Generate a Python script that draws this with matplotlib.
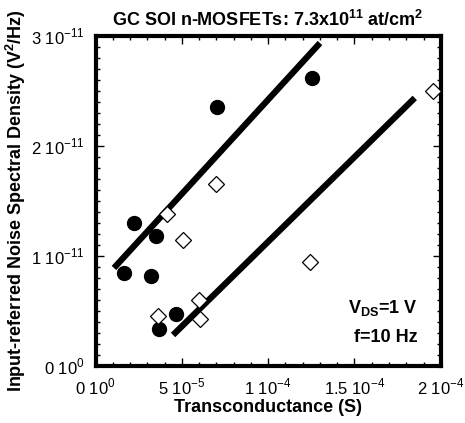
import numpy as np
import matplotlib
matplotlib.use('Agg')
import matplotlib.pyplot as plt
from matplotlib.ticker import FixedLocator, MultipleLocator

plt.rcParams['font.family'] = ['Liberation Sans', 'DejaVu Sans']
plt.rcParams['mathtext.fontset'] = 'custom'
plt.rcParams['mathtext.rm'] = 'Liberation Sans'
plt.rcParams['mathtext.bf'] = 'Liberation Sans:bold'

# filled circles
gm_circ = [16.5e-6, 22.3e-6, 35.0e-6, 32.1e-6, 36.8e-6, 46.6e-6, 70.3e-6, 125.3e-6]
svg_circ = [0.842e-11, 1.297e-11, 1.179e-11, 0.815e-11, 0.332e-11, 0.469e-11, 2.353e-11, 2.618e-11]

# open diamonds
gm_diam = [41.4e-6, 50.7e-6, 36.2e-6, 59.9e-6, 60.5e-6, 69.8e-6, 124.2e-6, 195.5e-6]
svg_diam = [1.379e-11, 1.143e-11, 0.451e-11, 0.596e-11, 0.423e-11, 1.653e-11, 0.942e-11, 2.50e-11]

# fit lines (end points)
fit1_x = [10.7e-6, 130.0e-6]
fit1_y = [0.888e-11, 2.936e-11]
fit2_x = [44.9e-6, 184.9e-6]
fit2_y = [0.278e-11, 2.436e-11]

xticks = [0, 5e-5, 1e-4, 1.5e-4, 2e-4]
xlabels = ['0 10$^{0}$', '5 10$^{-5}$', '1 10$^{-4}$', '1.5 10$^{-4}$', '2 10$^{-4}$']
yticks = [0, 1e-11, 2e-11, 3e-11]
ylabels = ['0 10$^{0}$', '1 10$^{-11}$', '2 10$^{-11}$', '3 10$^{-11}$']

fig = plt.figure(figsize=(4.65, 4.23), dpi=100)
ax = fig.add_axes([0.2054, 0.1359, 0.7426, 0.779])

ax.plot(fit1_x, fit1_y, color='black', lw=4.5, solid_capstyle='butt')
ax.plot(fit2_x, fit2_y, color='black', lw=4.5, solid_capstyle='butt')
ax.plot(gm_circ, svg_circ, 'o', color='black', ms=10, zorder=3)
ax.plot(gm_diam, svg_diam, 'D', mfc='white', mec='black', mew=0.9, ms=8, zorder=3, clip_on=False)

ax.set_xlim(0, 2e-4)
ax.set_ylim(0, 3e-11)
ax.xaxis.set_major_locator(FixedLocator(xticks))
ax.set_xticklabels(xlabels)
ax.yaxis.set_major_locator(FixedLocator(yticks))
ax.set_yticklabels(ylabels)
ax.xaxis.set_minor_locator(MultipleLocator(1e-5))
ax.yaxis.set_minor_locator(MultipleLocator(1e-12))
ax.tick_params(which='both', direction='in', top=True, right=True, width=1)
ax.tick_params(which='major', length=5.5, labelsize=12, pad=8)
ax.tick_params(which='minor', length=3)
for s in ax.spines.values():
    s.set_linewidth(3)

ax.set_xlabel('Transconductance (S)', fontsize=13, fontweight='bold', labelpad=1)
ax.set_ylabel('Input-referred Noise Spectral Density (V$^{\\mathbf{2}}$/Hz)',
              fontsize=13, fontweight='bold', labelpad=2)
ax.set_title('GC SOI n-MOSFETs: 7.3x10$^{\\mathbf{11}}$ at/cm$^{\\mathbf{2}}$',
             fontsize=13, fontweight='bold', pad=7)

ax.text(0.932, 0.175, 'V$_{\\mathbf{DS}}$=1 V', transform=ax.transAxes, ha='right',
        va='center', fontsize=13, fontweight='bold')
ax.text(0.932, 0.085, 'f=10 Hz', transform=ax.transAxes, ha='right',
        va='center', fontsize=13, fontweight='bold')

fig.savefig('out.png', dpi=100)
